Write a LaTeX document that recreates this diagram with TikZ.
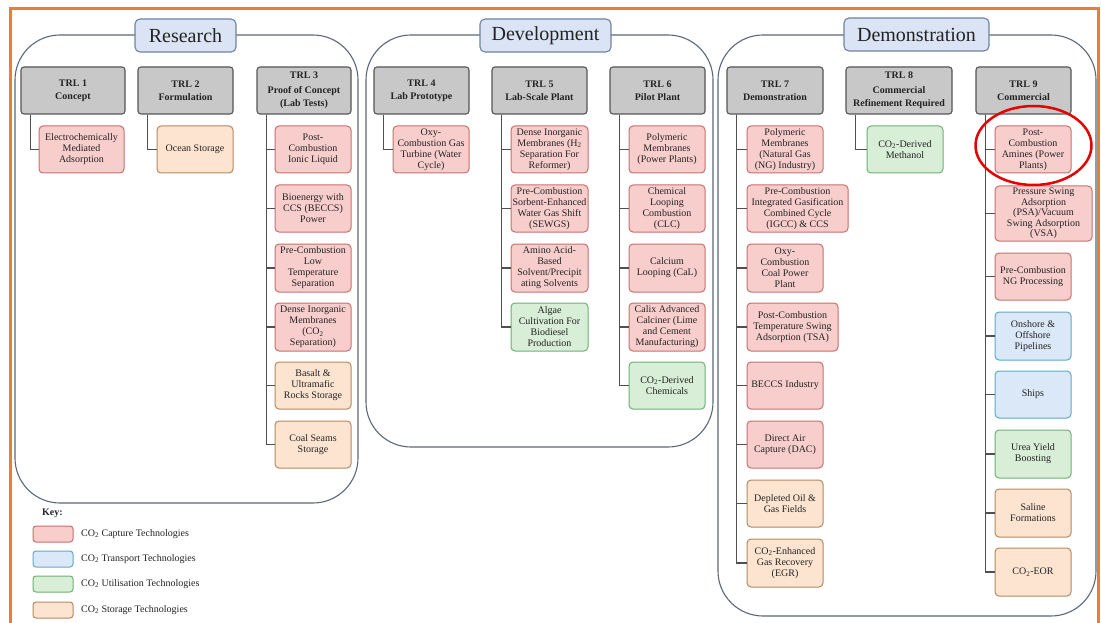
\documentclass[tikz,border=0pt]{standalone}
\usepackage{fontspec}
\setmainfont{Liberation Serif}
\usetikzlibrary{shapes.geometric}
\definecolor{capF}{RGB}{248,206,204}
\definecolor{capD}{RGB}{200,112,110}
\definecolor{stoF}{RGB}{252,228,208}
\definecolor{stoD}{RGB}{182,136,96}
\definecolor{utiF}{RGB}{216,238,214}
\definecolor{utiD}{RGB}{110,178,118}
\definecolor{traF}{RGB}{218,232,248}
\definecolor{traD}{RGB}{96,170,196}
\definecolor{trlF}{RGB}{200,200,200}
\definecolor{trlD}{RGB}{85,85,85}
\definecolor{phF}{RGB}{218,228,245}
\definecolor{phD}{RGB}{112,130,160}
\definecolor{grpD}{RGB}{92,102,124}
\definecolor{frameC}{RGB}{237,125,49}
\definecolor{lnk}{RGB}{80,80,80}
\definecolor{txt}{RGB}{35,35,35}
\newcommand\bx[7]{\node[#2, minimum width={(#5)-(#3)}, minimum height={(#6)-(#4)}] (#1) at ({((#3)+(#5))/2},{((#4)+(#6))/2}) {#7};}
\tikzset{
  techbox/.style={rounded corners=4pt, align=center, inner sep=1pt, text=txt, font=\fontsize{10}{11}\selectfont, line width=1pt},
  capbox/.style={techbox, fill=capF, draw=capD},
  stobox/.style={techbox, fill=stoF, draw=stoD},
  utibox/.style={techbox, fill=utiF, draw=utiD},
  trabox/.style={techbox, fill=traF, draw=traD},
  trlbox/.style={rounded corners=3pt, fill=trlF, draw=trlD, line width=1.1pt, align=center, inner sep=1pt, text=txt, font=\bfseries\fontsize{10}{13}\selectfont},
  phasebox/.style={rounded corners=5pt, fill=phF, draw=phD, line width=1.1pt, inner sep=1pt, text=txt, font=\fontsize{20}{24}\selectfont},
  grpline/.style={draw=grpD, line width=1.1pt, rounded corners=45pt},
  linkline/.style={draw=lnk, line width=1.2pt},
  keybox/.style={rounded corners=3pt, line width=1pt, minimum width=40, minimum height=16, inner sep=0pt},
  keytxt/.style={anchor=west, inner sep=0pt, text=txt, font=\fontsize{10}{12}\selectfont},
}
\begin{document}
\begin{tikzpicture}[x=1pt, y=-1pt]
\clip (0,0) rectangle (1101,623);
\fill[white] (0,0) rectangle (1101,623);
\draw[frameC, line width=3pt] (10.5,8.5) rectangle (1098.5,640);

% groups
\draw[grpline] (15,35) rectangle (358,503);
\draw[grpline] (366,35) rectangle (713,447);
\draw[grpline] (718,35) rectangle (1096,616);
\bx{pr}{phasebox}{135}{19}{236}{52}{Research}
\bx{pd}{phasebox}{480}{19}{611}{52}{Development}
\bx{pm}{phasebox}{844}{18}{989}{51}{Demonstration}

% TRL boxes
\bx{t1}{trlbox}{21}{67}{125}{114}{TRL 1\\Concept}
\bx{t2}{trlbox}{138}{67}{233}{114}{TRL 2\\Formulation}
\bx{t3}{trlbox}{257}{67}{351}{114}{TRL 3\\[2pt]Proof of Concept\\(Lab Tests)}
\bx{t4}{trlbox}{374}{67}{469}{114}{TRL 4\\Lab Prototype}
\bx{t5}{trlbox}{492}{67}{587}{114}{TRL 5\\Lab-Scale Plant}
\bx{t6}{trlbox}{610}{67}{705}{114}{TRL 6\\Pilot Plant}
\bx{t7}{trlbox}{727}{67}{823}{114}{TRL 7\\Demonstration}
\bx{t8}{trlbox}{846}{67}{952}{114}{TRL 8\\[2pt]Commercial\\Refinement Required}
\bx{t9}{trlbox}{976}{67}{1071}{114}{TRL 9\\Commercial}

% Research children
\bx{a1}{capbox}{39}{126}{124}{173}{Electrochemically\\Mediated\\Adsorption}
\bx{b1}{stobox}{157}{126}{233}{173}{Ocean Storage}
\bx{c1}{capbox}{275}{126}{351}{173}{Post-\\Combustion\\Ionic Liquid}
\bx{c2}{capbox}{275}{185}{351}{232}{Bioenergy with\\CCS (BECCS)\\Power}
\bx{c3}{capbox}{275}{244}{351}{292}{Pre-Combustion\\Low\\Temperature\\Separation}
\bx{c4}{capbox}{275}{303}{351}{351}{Dense Inorganic\\Membranes\\(CO\textsubscript{2}\\Separation)}
\bx{c5}{stobox}{275}{362}{351}{409}{Basalt \&\\Ultramafic\\Rocks Storage}
\bx{c6}{stobox}{275}{421}{351}{468}{Coal Seams\\Storage}

% Development children
\bx{d1}{capbox}{393}{126}{469}{173}{Oxy-\\Combustion Gas\\Turbine (Water\\Cycle)}
\bx{e1}{capbox}{511}{126}{588}{173}{Dense Inorganic\\Membranes (H\textsubscript{2}\\Separation For\\Reformer)}
\bx{e2}{capbox}{511}{185}{588}{232}{Pre-Combustion\\Sorbent-Enhanced\\Water Gas Shift\\(SEWGS)}
\bx{e3}{capbox}{511}{244}{588}{292}{Amino Acid-\\Based\\Solvent/Precipit\\ating Solvents}
\bx{e4}{utibox}{511}{303}{588}{351}{Algae\\Cultivation For\\Biodiesel\\Production}
\bx{f1}{capbox}{629}{126}{705}{173}{Polymeric\\Membranes\\(Power Plants)}
\bx{f2}{capbox}{629}{185}{705}{232}{Chemical\\Looping\\Combustion\\(CLC)}
\bx{f3}{capbox}{629}{244}{705}{292}{Calcium\\Looping (CaL)}
\bx{f4}{capbox}{629}{303}{705}{351}{Calix Advanced\\Calciner (Lime\\and Cement\\Manufacturing)}
\bx{f5}{utibox}{629}{362}{705}{409}{CO\textsubscript{2}-Derived\\Chemicals}

% Demonstration children
\bx{g1}{capbox}{747}{126}{823}{173}{Polymeric\\Membranes\\(Natural Gas\\(NG) Industry)}
\bx{g2}{capbox}{747}{185}{848}{232}{Pre-Combustion\\Integrated Gasification\\Combined Cycle\\(IGCC) \& CCS}
\bx{g3}{capbox}{747}{244}{823}{292}{Oxy-\\Combustion\\Coal Power\\Plant}
\bx{g4}{capbox}{747}{303}{838}{351}{Post-Combustion\\Temperature Swing\\Adsorption (TSA)}
\bx{g5}{capbox}{747}{362}{823}{409}{BECCS Industry}
\bx{g6}{capbox}{747}{421}{823}{468}{Direct Air\\Capture (DAC)}
\bx{g7}{stobox}{747}{480}{823}{527}{Depleted Oil \&\\Gas Fields}
\bx{g8}{stobox}{747}{539}{823}{587}{CO\textsubscript{2}-Enhanced\\Gas Recovery\\(EGR)}
\bx{h1}{utibox}{867}{126}{943}{173}{CO\textsubscript{2}-Derived\\Methanol}
\bx{k1}{capbox}{995}{126}{1071}{173}{Post-\\Combustion\\Amines (Power\\Plants)}
\bx{k2}{capbox, font=\fontsize{10}{10.5}\selectfont}{995}{186}{1092}{241}{Pressure Swing\\Adsorption\\(PSA)/Vacuum\\Swing Adsorption\\(VSA)}
\bx{k3}{capbox}{995}{253}{1071}{300}{Pre-Combustion\\NG Processing}
\bx{k4}{trabox}{995}{312}{1071}{360}{Onshore \&\\Offshore\\Pipelines}
\bx{k5}{trabox}{995}{371}{1071}{418}{Ships}
\bx{k6}{utibox}{995}{430}{1071}{478}{Urea Yield\\Boosting}
\bx{k7}{stobox}{995}{489}{1071}{537}{Saline\\Formations}
\bx{k8}{stobox}{995}{548}{1071}{596}{CO\textsubscript{2}-EOR}

% connectors
\foreach \t/\c in {t1/a1, t2/b1, t3/c1, t3/c2, t3/c3, t3/c4, t3/c5, t3/c6,
  t4/d1, t5/e1, t5/e2, t5/e3, t5/e4, t6/f1, t6/f2, t6/f3, t6/f4, t6/f5,
  t7/g1, t7/g2, t7/g3, t7/g4, t7/g5, t7/g6, t7/g7, t7/g8, t8/h1,
  t9/k1, t9/k2, t9/k3, t9/k4, t9/k5, t9/k6, t9/k7, t9/k8}
  {\draw[linkline] ([xshift=10pt]\t.south west) |- (\c.west);}

% highlight
\node[draw={rgb,255:red,230;green,0;blue,0}, line width=2.5pt, ellipse, minimum width=116, minimum height=79, inner sep=0pt] (ring) at (1033.5,145.5) {};

% key
\node[anchor=west, inner sep=0pt, text=txt, font=\bfseries\fontsize{10}{12}\selectfont] (key) at (42,513) {Key:};
\node[keybox, fill=capF, draw=capD] (kc) at (53,534) {};
\node[keybox, fill=traF, draw=traD] (kt) at (53,559) {};
\node[keybox, fill=utiF, draw=utiD] (ku) at (53,584) {};
\node[keybox, fill=stoF, draw=stoD] (ks) at (53,610) {};
\node[keytxt] (kct) at (81,534) {CO\textsubscript{2} Capture Technologies};
\node[keytxt] (ktt) at (81,559) {CO\textsubscript{2} Transport Technologies};
\node[keytxt] (kut) at (81,584) {CO\textsubscript{2} Utilisation Technologies};
\node[keytxt] (kst) at (81,610) {CO\textsubscript{2} Storage Technologies};
\end{tikzpicture}
\end{document}
